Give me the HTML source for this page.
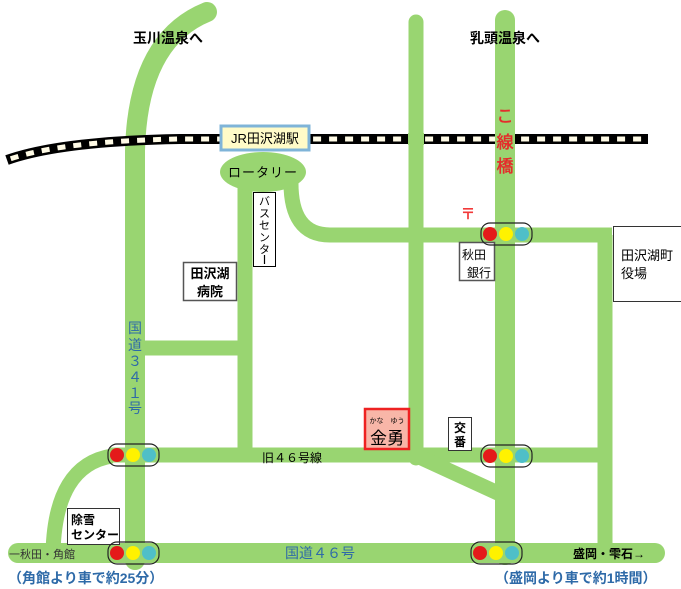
<!DOCTYPE html>
<html><head><meta charset="utf-8"><style>
html,body{margin:0;padding:0;background:#fff;}
svg{display:block;}
text{font-family:"Liberation Sans","Noto Sans CJK JP",sans-serif;}
</style></head><body>
<svg width="681" height="589" viewBox="0 0 681 589" xmlns="http://www.w3.org/2000/svg">
<defs><g id="tl">
<rect x="-25" y="-11" width="51" height="22" rx="9" fill="none" stroke="#222" stroke-width="1.2"/>
<circle cx="-16" cy="0" r="7" fill="#e41a1a"/><circle cx="0" cy="0" r="7" fill="#fff200"/><circle cx="16" cy="0" r="7" fill="#4fbfc8"/>
</g></defs>
<g stroke="#99d571" fill="none">
 <path d="M135,560 L135,150 Q138,40 207,12" stroke-width="20" stroke-linecap="round"/>
 <line x1="416" y1="22" x2="416" y2="458" stroke-width="15" stroke-linecap="round"/>
 <line x1="505" y1="20" x2="505" y2="555" stroke-width="20" stroke-linecap="round"/>
 <line x1="605" y1="235" x2="605" y2="553" stroke-width="15"/>
 <line x1="245" y1="180" x2="245" y2="455" stroke-width="15"/>
 <path d="M291,180 Q290,235 330,235 L612,235" stroke-width="15"/>
 <line x1="140" y1="348" x2="250" y2="348" stroke-width="15"/>
 <line x1="110" y1="455" x2="605" y2="455" stroke-width="15"/>
 <line x1="415" y1="455" x2="500" y2="494" stroke-width="15"/>
 <path d="M112,456 Q55,465 53,553" stroke-width="15"/>
 <line x1="18" y1="553" x2="655" y2="553" stroke-width="20" stroke-linecap="round"/>
</g>
<path d="M7,160 Q60,141 180,139 L408,139 M424,139 L495,139 M515,139 L648,139" stroke="#000" stroke-width="10" fill="none"/>
<path d="M7,160 Q60,141 180,139 L648,139" stroke="#fffbe6" stroke-width="5" fill="none" stroke-dasharray="8,8" stroke-dashoffset="-4"/>
<rect x="408" y="133" width="16" height="12" fill="#99d571"/>
<rect x="495" y="133" width="20" height="12" fill="#99d571"/>
<ellipse cx="263" cy="172" rx="43" ry="20" fill="#99d571"/>
<text x="263" y="177" font-size="13" text-anchor="middle" letter-spacing="1">ロータリー</text>
<rect x="221" y="126" width="88" height="24" fill="#fffbc8" stroke="#7fb4d8" stroke-width="3"/>
<text x="265" y="143" font-size="13" text-anchor="middle">JR田沢湖駅</text>
<g font-size="17" fill="#e52b2b" text-anchor="middle" stroke="#e52b2b" stroke-width="0.5">
<text x="505" y="122">こ</text><text x="505" y="148">線</text><text x="505" y="172">橋</text></g>
<text x="468" y="219" font-size="15" fill="#f23a3a" text-anchor="middle" font-weight="bold">〒</text>
<text x="133" y="43" font-size="14" font-weight="bold">玉川温泉へ</text>
<text x="470" y="43" font-size="14" font-weight="bold">乳頭温泉へ</text>
<rect x="253.5" y="192.5" width="22" height="74" fill="#fff" stroke="#000"/>
<g font-size="11" text-anchor="middle"><text x="264.5" y="205">バ</text><text x="264.5" y="217">ス</text><text x="264.5" y="229">セ</text><text x="264.5" y="241">ン</text><text x="264.5" y="253">タ</text></g>
<line x1="264.5" y1="255" x2="264.5" y2="264" stroke="#000" stroke-width="1.2"/>
<rect x="183.5" y="262.5" width="53" height="38" fill="#fff" stroke="#555" stroke-width="1.5"/>
<text x="210" y="278" font-size="13" text-anchor="middle" font-weight="bold">田沢湖</text>
<text x="210" y="296" font-size="13" text-anchor="middle" font-weight="bold">病院</text>
<rect x="459.5" y="242.5" width="35" height="38" fill="#fff" stroke="#555" stroke-width="1.5"/>
<text x="462" y="259" font-size="12">秋田</text>
<text x="467" y="277" font-size="12">銀行</text>
<rect x="613.5" y="226.5" width="70" height="75" fill="#fff" stroke="#333"/>
<text x="621" y="260" font-size="13">田沢湖町</text>
<text x="621" y="278" font-size="13">役場</text>
<rect x="448.5" y="417.5" width="23" height="33" fill="#fff" stroke="#333"/>
<text x="460" y="432" font-size="12" text-anchor="middle" font-weight="bold">交</text>
<text x="460" y="446" font-size="12" text-anchor="middle" font-weight="bold">番</text>
<rect x="365" y="409" width="44" height="40" fill="#f8b6a8" stroke="#ee2222" stroke-width="2.5"/>
<text x="387" y="423" font-size="7" text-anchor="middle">かな　ゆう</text>
<text x="387" y="444" font-size="17" text-anchor="middle">金勇</text>
<rect x="67.5" y="508.5" width="52" height="36" fill="#fff" stroke="#333"/>
<text x="71" y="524" font-size="12" font-weight="bold">除雪</text>
<text x="71" y="539" font-size="12" font-weight="bold">センター</text>
<g font-size="14" fill="#2e6aa8" text-anchor="middle">
<text x="135" y="333">国</text><text x="135" y="350">道</text><text x="135" y="366">３</text><text x="135" y="382">４</text><text x="135" y="398">１</text><text x="135" y="413">号</text>
</g>
<text x="262" y="462" font-size="12">旧４６号線</text>
<text x="285" y="558" font-size="14" fill="#2e6aa8">国道４６号</text>
<text x="9" y="558" font-size="11" fill="#333">一秋田・角館</text>
<text x="573" y="558" font-size="12" font-weight="bold">盛岡・雫石→</text>
<text x="8" y="583" font-size="14" fill="#2e6aa8" font-weight="bold">（角館より車で約25分）</text>
<text x="495" y="583" font-size="14" fill="#2e6aa8" font-weight="bold">（盛岡より車で約1時間）</text>
<use href="#tl" x="506" y="234"/>
<use href="#tl" x="506" y="456"/>
<use href="#tl" x="133" y="455"/>
<use href="#tl" x="133" y="553"/>
<use href="#tl" x="496" y="553"/>
</svg>
</body></html>
